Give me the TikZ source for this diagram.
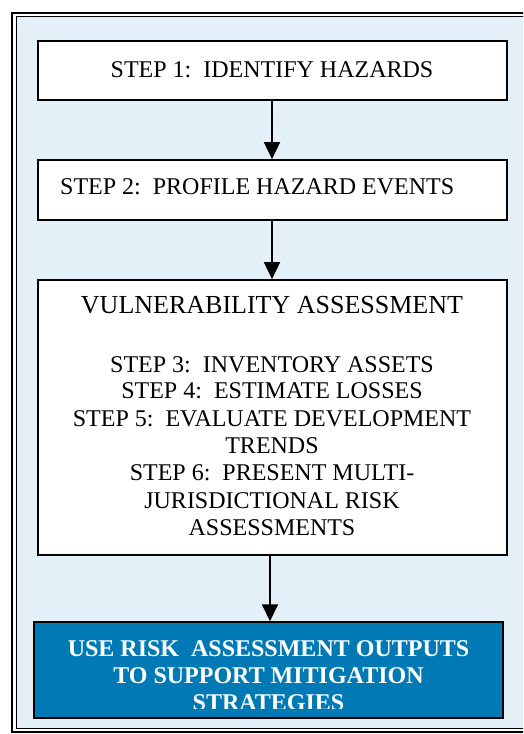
\documentclass[tikz,border=0pt]{standalone}
\usepackage{fontspec}
\setmainfont{Liberation Serif}
\usetikzlibrary{arrows.meta}

\definecolor{panelblue}{HTML}{E3F0F7}
\definecolor{outblue}{HTML}{0079B5}

\begin{document}
\begin{tikzpicture}[x=1pt,y=-1pt,
  stepbox/.style={draw=black,line width=1.8pt,fill=white,inner sep=0pt},
  outbox/.style={draw=black,line width=1.5pt,fill=outblue,inner sep=0pt},
  txt/.style={inner sep=0pt,anchor=base,font=\fontsize{24}{28}\selectfont},
  head/.style={inner sep=0pt,anchor=base,font=\fontsize{26}{30}\selectfont},
  wtxt/.style={inner sep=0pt,anchor=base,text=white,font=\fontsize{24}{28}\selectfont\bfseries},
  arr/.style={line width=2pt,-{Triangle[width=16pt,length=17pt]}}]
\useasboundingbox (0,0) rectangle (523,734);
\clip (0,0) rectangle (523,734);

% double frame with the pale blue panel; its right side runs off the page
\fill[panelblue] (16,16.5) rectangle (560,728.5);
\draw[line width=2pt] (12,13) rectangle (560,732);
\draw[line width=1pt] (16,16.5) rectangle (560,728.5);

% step boxes
\node[stepbox,minimum width=469pt,minimum height=59pt] (s1) at (272.5,70.5) {};
\node[stepbox,minimum width=469pt,minimum height=60pt] (s2) at (272.5,190) {};
\node[stepbox,minimum width=469pt,minimum height=275pt] (s3) at (272.5,417.5) {};
\node[outbox,minimum width=469pt,minimum height=96pt] (s4) at (268.5,670) {};

% texts
\node[txt] (t1) at (272,77) {STEP 1:\ \ IDENTIFY HAZARDS};
\node[txt,anchor=base west] (t2) at (60,194) {STEP 2:\ \ PROFILE HAZARD EVENTS};

\node[head] (h3) at (272,313) {VULNERABILITY ASSESSMENT};
\node[txt] (l3) at (272,372) {STEP 3:\ \ INVENTORY ASSETS};
\node[txt] (l4) at (272,398) {STEP 4:\ \ ESTIMATE LOSSES};
\node[txt] (l5) at (272,426) {STEP 5:\ \ EVALUATE DEVELOPMENT};
\node[txt] (l6) at (272,453) {TRENDS};
\node[txt] (l7) at (272,480) {STEP 6:\ \ PRESENT MULTI-};
\node[txt] (l8) at (272,508) {JURISDICTIONAL RISK};
\node[txt] (l9) at (272,535) {ASSESSMENTS};

\begin{scope}
  \clip (35,623) rectangle (502,708);
  \node[wtxt] (o1) at (268.5,656) {USE RISK\ \ ASSESSMENT OUTPUTS};
  \node[wtxt] (o2) at (268.5,683) {TO SUPPORT MITIGATION};
  \node[wtxt] (o3) at (268.5,710) {STRATEGIES};
\end{scope}

% connectors
\draw[arr] (s1.south -| t1.base) -- (s2.north -| t1.base);
\draw[arr] (s2.south -| t1.base) -- (s3.north -| t1.base);
\draw[arr] (s3.south -| 270,0) -- (s4.north -| 270,0);
\end{tikzpicture}
\end{document}
